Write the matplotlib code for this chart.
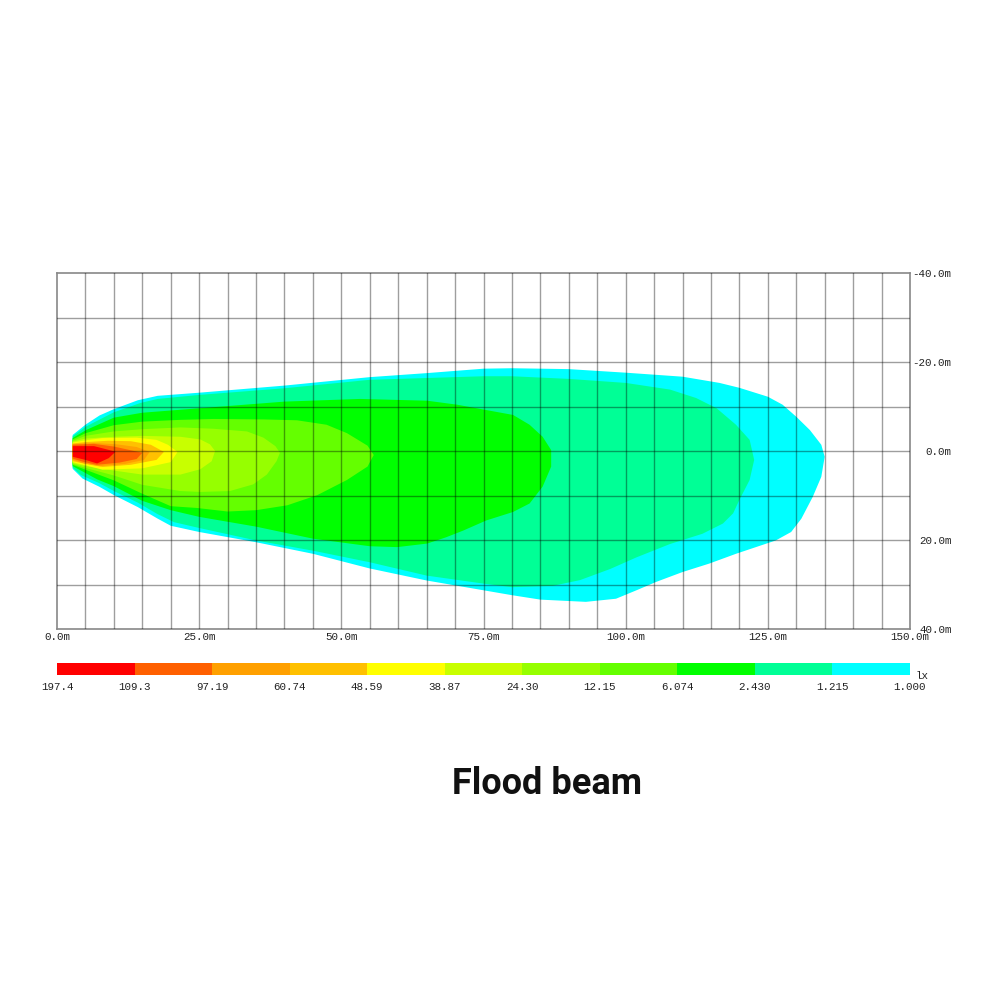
import numpy as np
import matplotlib.pyplot as plt

# colour scale (lx), left edge of each colour block
scale_labels = ["197.4", "109.3", "97.19", "60.74", "48.59", "38.87",
                "24.30", "12.15", "6.074", "2.430", "1.215", "1.000"]
scale_colors = ["#ff0000", "#ff6000", "#ffa000", "#ffc000", "#ffff00", "#c8ff00",
                "#96ff00", "#64ff00", "#00ff00", "#00ff96", "#00ffff"]

# iso-lux outlines, x = distance (m), y = lateral offset (m)
# >= 1.000 lx
lx_1000_x = [2.75, 5.1, 7.5, 10, 14.2, 17.7, 25, 40, 55, 65, 75, 80, 90, 100, 110, 116.5,
             120, 125, 127.6, 130, 132.4, 134.4, 135, 134.4, 132.9, 130.9, 129.1, 126.4,
             122.9, 119.4, 114.7, 110, 105.4, 101.9, 98.3, 93, 85, 80, 75, 65, 55, 45, 35,
             25, 20, 17.7, 14.2, 10, 7.4, 4.5, 2.75]
lx_1000_y = [-3.6, -6.0, -8.0, -9.4, -11.4, -12.4, -13.1, -14.7, -16.6, -17.5, -18.5, -18.6,
             -18.4, -17.6, -16.7, -15.3, -14.2, -12.2, -10.4, -7.7, -4.7, -1.4, 1.3, 5.8,
             10.3, 15.2, 18.2, 20.1, 21.6, 23.1, 25.3, 27.2, 29.4, 31.3, 33.2, 33.9, 33.4,
             32.4, 31.3, 29.1, 26.4, 23.1, 20.5, 18.2, 16.8, 15.2, 12.6, 9.9, 8.0, 6.2, 4.0]

# >= 1.215 lx
lx_1215_x = [2.75, 5.1, 10, 14.7, 17.7, 25, 40, 55, 75, 80, 90, 100, 107.8, 112.4, 116,
             119.4, 121.8, 122.6, 121.8, 120, 118.9, 117.1, 113.5, 107.8, 101.9, 97.3, 92,
             87.2, 80, 75, 65, 55, 45, 35, 25, 20.6, 17.7, 14.2, 10, 7.4, 4.2, 2.75]
lx_1215_y = [-3.3, -5.5, -8.7, -10.8, -11.7, -12.6, -14.1, -16.0, -16.8, -16.8, -16.2, -15.3,
             -13.8, -11.9, -9.6, -5.9, -2.5, 2.0, 6.5, 11.0, 14.0, 16.3, 18.6, 20.9, 23.9,
             26.5, 29.0, 30.3, 30.6, 29.8, 28.0, 25.0, 22.4, 20.1, 17.3, 16.0, 14.2, 11.6,
             9.0, 7.2, 5.4, 3.7]

# >= 2.430 lx
lx_2430_x = [2.75, 5.1, 10, 15, 25, 40, 53.3, 65.1, 70.4, 75.5, 80.2, 83.1, 85.4, 86.9,
             86.9, 85.4, 83.1, 80.2, 75.5, 71.4, 68.4, 65.1, 59.8, 55, 45, 35, 25, 20, 15,
             10, 7.1, 4.5, 2.75]
lx_2430_y = [-2.9, -4.7, -7.5, -8.6, -9.6, -11.1, -11.7, -11.3, -10.4, -9.2, -8.1, -5.9,
             -3.2, -0.2, 3.5, 8.0, 11.8, 13.7, 15.6, 17.9, 19.4, 20.8, 21.6, 21.4, 19.7,
             17.0, 14.8, 13.3, 11.2, 7.9, 6.4, 4.6, 3.4]

# >= 6.074 lx
lx_6074_x = [2.75, 5, 10, 15, 21.7, 27.5, 36.3, 42.2, 47.4, 51.0, 54.6, 55.7, 54.6, 51.0,
             45.8, 40.5, 35, 30, 24.6, 20, 15, 10, 5, 2.75]
lx_6074_y = [-2.6, -4.0, -5.8, -6.6, -7.0, -7.2, -7.1, -6.9, -5.9, -4.0, -1.2, 0.9, 3.5,
             6.5, 9.9, 12.2, 13.3, 13.6, 12.8, 12.4, 9.6, 6.6, 4.2, 3.1]

# >= 12.15 lx
lx_1215b_x = [2.75, 5, 10, 15, 21.7, 27.5, 33.4, 36.3, 38.4, 39.2, 38.6, 36.9, 34.5, 30.4,
              25.2, 21.7, 15, 10, 5, 2.75]
lx_1215b_y = [-2.3, -3.4, -4.4, -4.9, -5.3, -5.0, -4.4, -3.0, -1.1, 0.4, 2.3, 5.3, 7.5,
              9.0, 9.2, 9.0, 7.6, 5.5, 3.8, 2.9]

# >= 24.30 lx
lx_2430b_x = [2.75, 5, 10, 15, 21.7, 25.2, 26.9, 27.8, 27.2, 25.2, 21.7, 15, 10, 5, 2.75]
lx_2430b_y = [-2.1, -2.8, -3.2, -3.4, -3.2, -2.6, -1.5, 0.0, 2.3, 4.1, 5.3, 5.3, 4.4, 3.4, 2.7]

# >= 38.87 lx
lx_3887_x = [2.75, 5, 8, 14, 17.5, 19.5, 21.2, 20.0, 15, 8, 5, 2.75]
lx_3887_y = [-1.9, -2.4, -2.9, -3.0, -2.5, -1.4, 0.2, 2.5, 3.9, 4.2, 3.2, 2.5]

# >= 48.59 lx
lx_4859_x = [2.75, 5, 9, 13, 16.5, 18.8, 17.5, 13, 8, 5, 2.75]
lx_4859_y = [-1.7, -2.0, -2.3, -2.2, -1.4, 0.2, 2.0, 3.1, 3.6, 2.9, 2.3]

# >= 60.74 lx
lx_6074b_x = [2.75, 6.5, 10.5, 14, 16.3, 15.3, 12, 7.5, 4.5, 2.75]
lx_6074b_y = [-1.55, -1.8, -1.5, -0.9, 0.2, 2.0, 2.9, 3.4, 2.7, 2.0]

# >= 97.19 lx
lx_9719_x = [2.75, 6.5, 10, 12.5, 15.0, 14.0, 11, 7, 4.5, 2.75]
lx_9719_y = [-1.4, -1.6, -1.0, -0.3, 0.4, 1.8, 2.6, 3.1, 2.4, 1.7]

# >= 109.3 lx
lx_1093_x = [2.77, 6.5, 10.3, 9.1, 7.05, 5.0, 2.77]
lx_1093_y = [-1.1, -1.1, 0.15, 1.6, 2.8, 2.0, 1.3]

zones_x = [lx_1000_x, lx_1215_x, lx_2430_x, lx_6074_x, lx_1215b_x, lx_2430b_x,
           lx_3887_x, lx_4859_x, lx_6074b_x, lx_9719_x, lx_1093_x]
zones_y = [lx_1000_y, lx_1215_y, lx_2430_y, lx_6074_y, lx_1215b_y, lx_2430b_y,
           lx_3887_y, lx_4859_y, lx_6074b_y, lx_9719_y, lx_1093_y]
zone_colors = scale_colors[::-1]

x_ticks = [0, 25, 50, 75, 100, 125, 150]
y_ticks = [-40, -20, 0, 20, 40]

mono = "Liberation Mono"

fig = plt.figure(figsize=(10, 10), dpi=100)
ax = fig.add_axes([0.057, 0.371, 0.853, 0.356])

for zx, zy, c in zip(zones_x, zones_y, zone_colors):
    ax.fill(zx, zy, color=c, lw=0, zorder=1)

# grid on top of the fill
for gx in np.arange(5, 150, 5):
    ax.axvline(gx, color="black", alpha=0.38, lw=1.0, zorder=3)
for gy in np.arange(-30, 40, 10):
    ax.axhline(gy, color="black", alpha=0.38, lw=1.0, zorder=3)

ax.set_xlim(0, 150)
ax.set_ylim(40, -40)
for s in ax.spines.values():
    s.set_color("#888888")
    s.set_linewidth(1.2)

ax.set_xticks(x_ticks)
ax.set_xticklabels([f"{v:.1f}m" for v in x_ticks], family=mono, fontsize=7.8)
ax.yaxis.tick_right()
ax.set_yticks(y_ticks)
ax.set_yticklabels([f"{v:.1f}m" for v in y_ticks], family=mono, fontsize=7.8)
for lbl in ax.get_yticklabels():
    lbl.set_horizontalalignment("right")
ax.tick_params(axis="x", length=0, pad=2, colors="#222222")
ax.tick_params(axis="y", length=0, pad=30, colors="#222222")

# colour scale bar
cax = fig.add_axes([0.057, 0.325, 0.853, 0.012])
cax.bar(np.arange(len(scale_colors)), 1, width=1, align="edge", color=scale_colors, lw=0)
cax.set_xlim(0, len(scale_colors))
cax.set_ylim(0, 1)
cax.set_yticks([])
cax.set_xticks(np.arange(len(scale_labels)))
cax.set_xticklabels(scale_labels, family=mono, fontsize=7.8)
cax.tick_params(axis="x", length=0, pad=5, colors="#222222")
for s in cax.spines.values():
    s.set_visible(False)
cax.text(1.006, -0.05, "lx", transform=cax.transAxes, family=mono, fontsize=7.8,
         ha="left", va="center", color="#222222")

fig.text(0.547, 0.216, "Flood beam", family="Roboto", weight="bold", fontsize=26,
         ha="center", va="center", color="#111111")

fig.savefig("out.png", dpi=100)
